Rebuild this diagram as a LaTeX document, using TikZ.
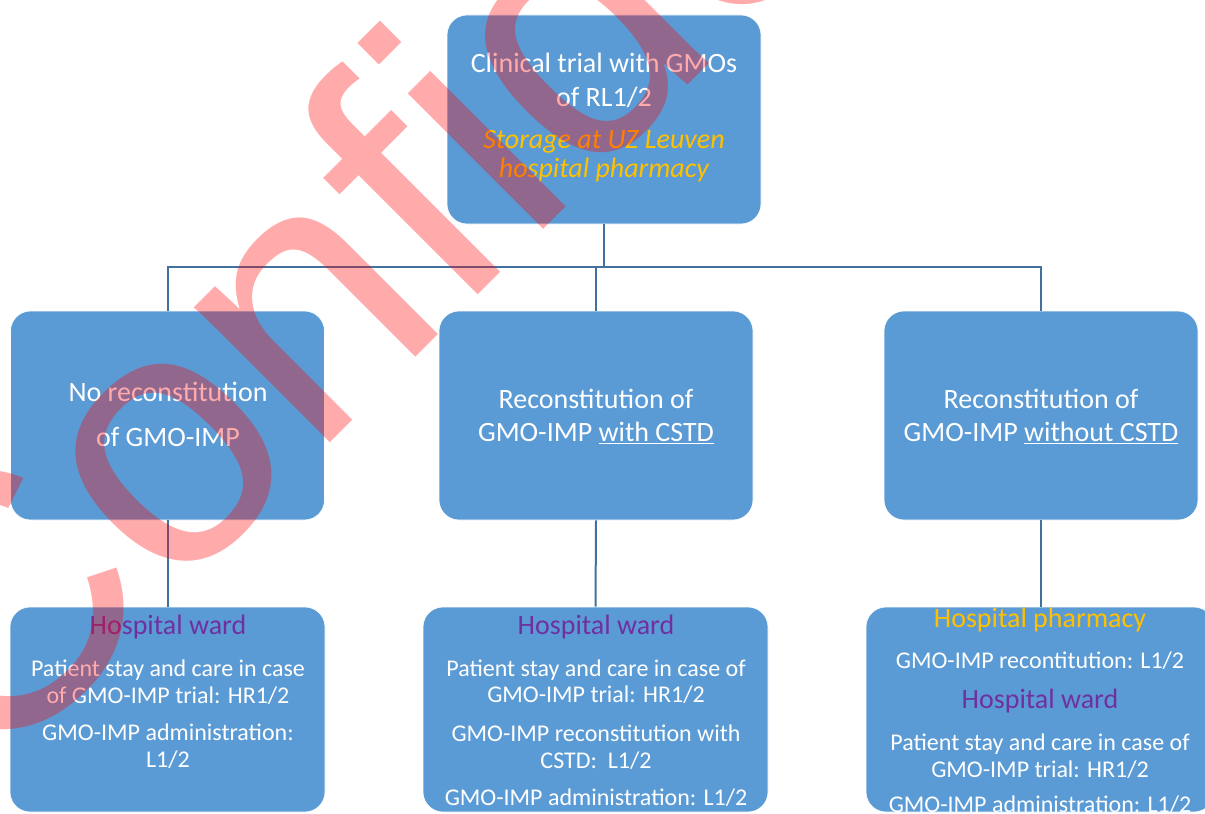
\documentclass[tikz,border=0pt]{standalone}
\usepackage{fontspec}
\setmainfont{Carlito}
\newfontfamily\stampfont[Ligatures=NoCommon]{Liberation Sans}
\usepackage{xcolor}
\usepackage{tikz}
\usetikzlibrary{positioning}
\usetikzlibrary{calc}

\definecolor{boxblue}{HTML}{5B9BD5}
\definecolor{linkblue}{HTML}{41719C}
\definecolor{wardpurple}{HTML}{7030A0}
\definecolor{pharmgold}{HTML}{FFC000}

\tikzset{
  box/.style={fill=boxblue, draw=white, line width=0.5pt, rounded corners=15pt,
    minimum width=235.5pt, minimum height=156.75pt, inner sep=0pt},
  link/.style={draw=linkblue, line width=1.5pt},
  % texts are placed by the baseline of their last line
  big/.style={text=white, align=center, anchor=base, inner sep=0pt,
    font=\fontsize{21}{24.75}\selectfont},
  small/.style={text=white, align=center, anchor=base, inner sep=0pt,
    font=\fontsize{18}{20}\selectfont},
  stamp/.style={text=red, text opacity=0.33, rotate=45, anchor=base west,
    inner sep=0pt, font=\stampfont\fontsize{272}{290}\selectfont}
}
\newcommand{\wardhead}{{\color{wardpurple}\fontsize{21}{20}\selectfont Hospital ward}}
\newcommand{\pharmhead}{{\color{pharmgold}\fontsize{21}{20}\selectfont Hospital pharmacy}}

\begin{document}
\begin{tikzpicture}[x=0.75pt,y=-0.75pt]
\useasboundingbox (0,0) rectangle (1205,813);
\clip (0,0) rectangle (1205,813);

% boxes
\node[box] (top) at (604,119.5) {};
\node[box] (nrec) at (167.5,415.5) {};
\node[box] (wcstd) at (596,415.5) {};
\node[box] (wocstd) at (1041,415.5) {};
\node[box, minimum width=236.25pt, minimum height=153.75pt] (ward1) at (167.5,709.5) {};
\node[box, minimum width=258.75pt, minimum height=153.75pt] (ward2) at (595.5,709.5) {};
\node[box, minimum width=261pt, minimum height=153.75pt] (pharm) at (1040,709.5) {};

% connectors
\draw[link] (top.south) -- ++(0,43);
\draw[link] (nrec.north) -- ++(0,-44) -| (wocstd.north);
\draw[link] (wcstd.north) -- ++(0,-44);
\draw[link] (nrec.south) -- (ward1.north);
\draw[link] (wcstd.south) -- (ward2.north);
\draw[link] (wocstd.south) -- (wocstd.south |- pharm.north);

% texts
\node[big] (topt) at (604,177) {Clinical trial with GMOs\\of RL1/2\\[6.75pt]
  {\color{pharmgold}\itshape Storage at UZ Leuven}\\[-3pt]
  {\color{pharmgold}\itshape hospital pharmacy}};
\node[big] (nrect) at (168,446) {No reconstitution\\[9pt]of GMO-IMP};
\node[big] (wcstdt) at (596,441) {Reconstitution of\\GMO-IMP \underline{with CSTD}};
\node[big] (wocstdt) at (1041,441) {Reconstitution of\\GMO-IMP \underline{without CSTD}};
\node[small] (ward1t) at (168,767) {\wardhead\\[11.5pt]
  Patient stay and care in case\\of GMO-IMP trial: HR1/2\\[7.75pt]
  GMO-IMP administration:\\L1/2};
\node[small] (ward2t) at (596,805) {\wardhead\\[11.5pt]
  Patient stay and care in case of\\GMO-IMP trial: HR1/2\\[9pt]
  GMO-IMP reconstitution with\\CSTD:\ \ L1/2\\[7.75pt]
  GMO-IMP administration: L1/2};
\node[small] (pharmt) at (1040,812) {\pharmhead\\[10.75pt]
  GMO-IMP recontitution: L1/2\\[10pt]
  \wardhead\\[11.5pt]
  Patient stay and care in case of\\GMO-IMP trial: HR1/2\\[6.25pt]
  GMO-IMP administration: L1/2};

% watermark
\node[stamp] (conf) at (-15,788) {Confidential};
\end{tikzpicture}
\end{document}
